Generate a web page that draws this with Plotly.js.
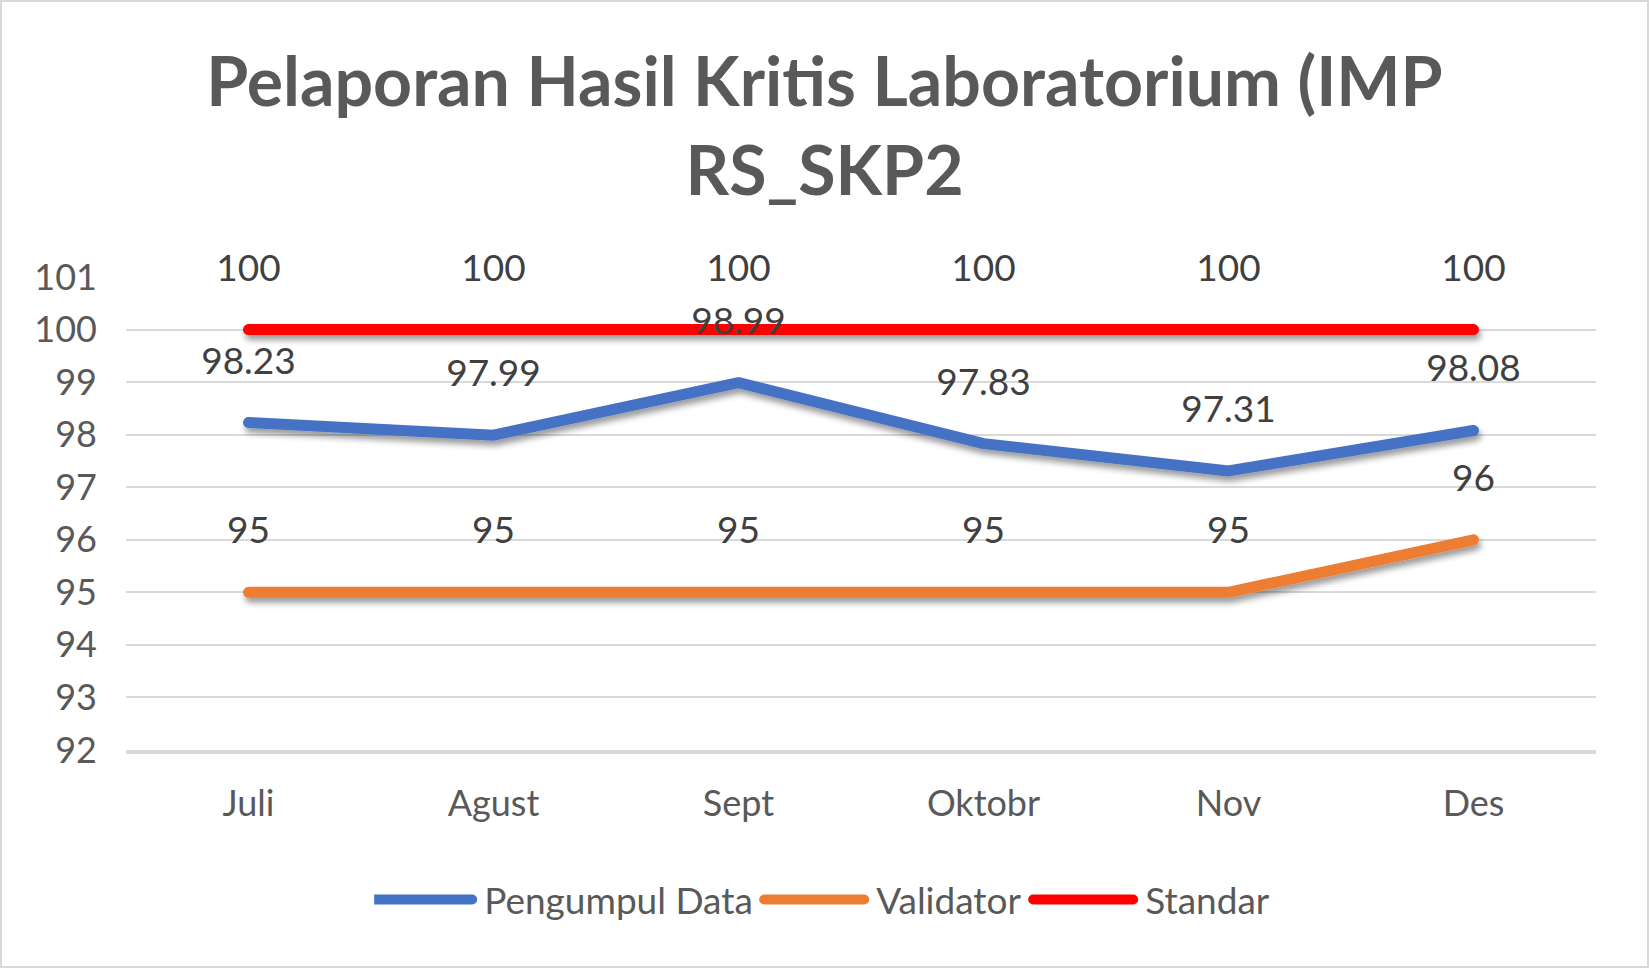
<!DOCTYPE html>
<html>
<head>
<meta charset="utf-8">
<script src="https://cdn.plot.ly/plotly-3.0.1.min.js"></script>
<style>
  html, body { margin:0; padding:0; background:#fff; }
  #wrap { position:relative; width:1649px; height:968px; }
  #chart { width:1649px; height:968px; }
  #frame { position:absolute; left:0; top:0; width:1649px; height:968px; box-sizing:border-box;
           border:2px solid #d9d9d9; pointer-events:none; }
  /* Excel-like rounded line ends */
  #chart .scatterlayer .js-line { stroke-linecap:round; stroke-linejoin:round; }
  #chart .legendlines path { stroke-linecap:round; transform:translateX(-7px); }
</style>
</head>
<body>
<div id="wrap"><div id="chart"></div><div id="frame"></div></div>
<script>
// months on the x axis
const months = ["Juli", "Agust", "Sept", "Oktobr", "Nov", "Des"];
// series values
const pengumpulData = [98.23, 97.99, 98.99, 97.83, 97.31, 98.08];
const validator     = [95, 95, 95, 95, 95, 96];
const standar       = [100, 100, 100, 100, 100, 100];
const yTicks = [92, 93, 94, 95, 96, 97, 98, 99, 100, 101];

const FONT = "Lato, 'Open Sans', sans-serif";

function lineTrace(name, y, color, rank, legendW) {
  return {
    x: months, y, name, type: "scatter", mode: "lines",
    line: { color, width: 11 }, legendrank: rank, legendwidth: legendW,
    hoverinfo: "skip"
  };
}
// labels go in their own traces, drawn after every line so they sit on top;
// big transparent markers push them up like Excel does
function labelTrace(name, y) {
  return {
    x: months, y, name, type: "scatter", mode: "markers+text", showlegend: false,
    marker: { size: 62, color: "rgba(0,0,0,0)" },
    text: y.map(String), textposition: "top center",
    textfont: { family: FONT, size: 37, color: "#404040" },
    cliponaxis: false, hoverinfo: "x+y+name"
  };
}

const traces = [
  lineTrace("Standar", standar, "#FF0000", 3, 133),
  lineTrace("Validator", validator, "#ED7D31", 2, 154),
  lineTrace("Pengumpul Data", pengumpulData, "#4472C4", 1, 277),
  labelTrace("Standar", standar),
  labelTrace("Validator", validator),
  labelTrace("Pengumpul Data", pengumpulData)
];

const layout = {
  width: 1649, height: 968,
  paper_bgcolor: "white", plot_bgcolor: "white",
  margin: { l: 126, r: 53, t: 277, b: 218 },
  title: {
    text: "<b>Pelaporan Hasil Kritis Laboratorium (IMP<br>RS_SKP2</b>",
    font: { family: FONT, size: 68, color: "#595959" },
    x: 0.5, xanchor: "center", y: 0.89, yanchor: "top", yref: "container"
  },
  xaxis: {
    type: "category", range: [-0.5, 5.5], showgrid: false, zeroline: false,
    showline: true, linecolor: "#d9d9d9", linewidth: 3.5, ticks: "", ticklabelstandoff: 19,
    tickfont: { family: FONT, size: 36, color: "#595959" }
  },
  yaxis: {
    range: [92, 101], tickvals: yTicks, showgrid: true, gridcolor: "#d9d9d9", gridwidth: 2,
    zeroline: false, showline: false, ticks: "", ticklabelstandoff: 28,
    tickfont: { family: FONT, size: 36, color: "#595959" }
  },
  showlegend: true,
  legend: {
    orientation: "h", x: 0.478, xanchor: "center", y: -0.317, yanchor: "middle",
    font: { family: FONT, size: 37, color: "#595959" }, itemwidth: 100,
    traceorder: "normal"
  },
  hovermode: "closest"
};

Plotly.newPlot("chart", traces, layout, { displayModeBar: false }).then(function (gd) {
  // soft drop shadow under the plotted lines, as in the Excel original
  const svg = gd.querySelector("svg.main-svg");
  const ns = "http://www.w3.org/2000/svg";
  let defs = svg.querySelector("defs");
  if (!defs) { defs = document.createElementNS(ns, "defs"); svg.insertBefore(defs, svg.firstChild); }
  const f = document.createElementNS(ns, "filter");
  f.setAttribute("id", "lineShadow");
  f.setAttribute("filterUnits", "userSpaceOnUse");
  f.setAttribute("x", "-200"); f.setAttribute("y", "-400");
  f.setAttribute("width", "2200"); f.setAttribute("height", "1600");
  f.innerHTML = '<feGaussianBlur in="SourceAlpha" stdDeviation="3"/>' +
    '<feOffset dx="2" dy="5" result="o"/>' +
    '<feComponentTransfer><feFuncA type="linear" slope="0.4"/></feComponentTransfer>' +
    '<feMerge><feMergeNode/><feMergeNode in="SourceGraphic"/></feMerge>';
  defs.appendChild(f);
  gd.querySelectorAll(".scatterlayer .js-line").forEach(function (p) {
    p.setAttribute("filter", "url(#lineShadow)");
  });
});
</script>
</body>
</html>
